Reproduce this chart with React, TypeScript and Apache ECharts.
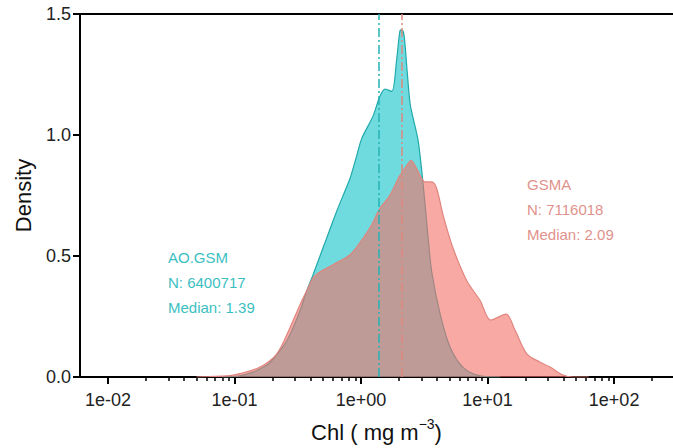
import React, { useEffect, useRef } from "react";
import * as echarts from "echarts";

// Chl (mg m^-3) and kernel density for AO.GSM
const aoChl = [0.0794, 0.092, 0.11, 0.14, 0.168, 0.191, 0.259, 0.33, 0.372, 0.418, 0.474, 0.535, 0.641, 0.748, 0.818, 0.925, 1.01, 1.245, 1.41, 1.55, 1.75, 1.91, 2.03, 2.1, 2.19, 2.3, 2.44, 2.58, 2.82, 3.02, 3.21, 3.39, 3.62, 4.22, 5.06, 6.4, 8.73, 12.6];
const aoDensity = [0, 0.001, 0.005, 0.02, 0.04, 0.06, 0.15, 0.275, 0.356, 0.423, 0.5, 0.574, 0.684, 0.77, 0.82, 0.915, 0.984, 1.079, 1.16, 1.19, 1.18, 1.31, 1.43, 1.434, 1.41, 1.28, 1.13, 1.07, 0.98, 0.85, 0.71, 0.574, 0.434, 0.26, 0.123, 0.04, 0.005, 0];

// Chl (mg m^-3) and kernel density for GSMA
const gsmaChl = [0.05, 0.063, 0.092, 0.11, 0.159, 0.216, 0.275, 0.33, 0.372, 0.43, 0.601, 0.818, 1.04, 1.21, 1.41, 1.69, 2.03, 2.3, 2.48, 2.75, 3.02, 3.21, 3.62, 3.96, 4.45, 5.33, 6.85, 8.73, 10.6, 14.0, 16.5, 20.4, 26.0, 31.2, 39.5, 47.4, 63];
const gsmaDensity = [0, 0.002, 0.006, 0.014, 0.041, 0.096, 0.205, 0.3, 0.356, 0.418, 0.464, 0.505, 0.574, 0.628, 0.697, 0.751, 0.833, 0.874, 0.895, 0.861, 0.82, 0.806, 0.806, 0.779, 0.669, 0.533, 0.398, 0.316, 0.235, 0.26, 0.193, 0.096, 0.061, 0.041, 0.008, 0, 0];

const aoMedian = 1.39;
const gsmaMedian = 2.09;
const aoN = 6400717;
const gsmaN = 7116018;

const majorTicks = [0.01, 0.1, 1, 10, 100];
const majorLabels = ["1e-02", "1e-01", "1e+00", "1e+01", "1e+02"];
const minorMultipliers = [2, 3, 4, 5, 6, 7, 8, 9];
const yTicks = [0, 0.5, 1.0, 1.5];

const X_MIN = 0.00601;
const X_MAX = 292;

const FONT = "'Liberation Sans', Arial, Helvetica, sans-serif";

export default function App() {
  const ref = useRef<HTMLDivElement>(null);

  useEffect(() => {
    if (!ref.current) return;
    const chart = echarts.init(ref.current, null, { renderer: "svg" });
    const lmin = Math.log10(X_MIN);
    const lmax = Math.log10(X_MAX);
    const majorVals = majorTicks.map((t) => Math.log10(t));
    const minorVals = majorTicks
      .flatMap((d) => minorMultipliers.map((k) => k * d))
      .filter((v) => v <= X_MAX)
      .map((v) => Math.log10(v));

    const labelFor = (v: number) => {
      const i = majorVals.findIndex((m) => Math.abs(m - v) < 1e-6);
      return i >= 0 ? majorLabels[i] : "";
    };

    const option: any = {
      animation: false,
      grid: { left: 80, right: 0, top: 14, bottom: 66, containLabel: false },
      xAxis: [
        {
          type: "value",
          position: "bottom",
          min: lmin,
          max: lmax,
          axisLine: { show: true, onZero: false, lineStyle: { color: "#000", width: 2 } },
          axisTick: { show: true, customValues: majorVals, length: 7, lineStyle: { color: "#000", width: 2 } },
          axisLabel: {
            show: true,
            customValues: majorVals,
            formatter: (v: number) => labelFor(v),
            fontSize: 18,
            fontFamily: FONT,
            color: "#222",
            margin: 14,
          },
          splitLine: { show: false },
          name: "{t|Chl ( mg m}{s|−3}{t|)}",
          nameLocation: "middle",
          nameGap: 40,
          nameTextStyle: {
            fontFamily: FONT,
            color: "#111",
            rich: {
              t: { fontSize: 22, fontFamily: FONT, color: "#111", lineHeight: 30 },
              s: { fontSize: 14, fontFamily: FONT, color: "#111", verticalAlign: "top", lineHeight: 16 },
            },
          },
        },
        {
          type: "value",
          position: "bottom",
          min: lmin,
          max: lmax,
          axisLine: { show: false, onZero: false },
          axisTick: { show: true, customValues: minorVals, length: 4, lineStyle: { color: "#000", width: 1.5 } },
          axisLabel: { show: false },
          splitLine: { show: false },
        },
        {
          type: "value",
          position: "top",
          min: lmin,
          max: lmax,
          axisLine: { show: true, onZero: false, lineStyle: { color: "#000", width: 2 } },
          axisTick: { show: false },
          axisLabel: { show: false },
          splitLine: { show: false },
        },
      ],
      yAxis: {
        type: "value",
        position: "left",
        min: 0,
        max: 1.5,
        interval: 0.5,
        axisLine: { show: true, onZero: false, lineStyle: { color: "#000", width: 2 } },
        axisTick: { show: true, customValues: yTicks, length: 7, lineStyle: { color: "#000", width: 2 } },
        axisLabel: {
          formatter: (v: number) => v.toFixed(1),
          fontSize: 18,
          fontFamily: FONT,
          color: "#222",
          margin: 9,
        },
        splitLine: { show: false },
        name: "Density",
        nameLocation: "middle",
        nameGap: 46,
        nameTextStyle: { fontSize: 22, fontFamily: FONT, color: "#111" },
      },
      series: [
        {
          name: "AO.GSM",
          type: "line",
          xAxisIndex: 0,
          data: aoChl.map((c, i) => [Math.log10(c), aoDensity[i]]),
          smooth: 0.3,
          symbol: "none",
          lineStyle: { color: "#1fa9ab", width: 1.2 },
          areaStyle: { color: "rgba(0,191,196,0.56)", opacity: 1 },
          z: 2,
          markLine: {
            silent: true,
            symbol: "none",
            label: { show: false },
            lineStyle: { color: "#25b3b5", width: 1.5, type: [9, 3, 2, 3] },
            data: [{ xAxis: Math.log10(aoMedian) }],
          },
        },
        {
          name: "GSMA",
          type: "line",
          xAxisIndex: 0,
          data: gsmaChl.map((c, i) => [Math.log10(c), gsmaDensity[i]]),
          smooth: 0.3,
          symbol: "none",
          lineStyle: { color: "#e0857e", width: 1.2 },
          areaStyle: { color: "rgba(244,112,104,0.6)", opacity: 1 },
          z: 3,
          markLine: {
            silent: true,
            symbol: "none",
            label: { show: false },
            lineStyle: { color: "#e0887f", width: 1.5, type: [9, 3, 2, 3] },
            data: [{ xAxis: Math.log10(gsmaMedian) }],
          },
        },
      ],
      graphic: [
        {
          type: "text",
          x: 168,
          y: 245,
          style: {
            text: `AO.GSM\nN: ${aoN}\nMedian: ${aoMedian.toFixed(2)}`,
            fontSize: 15,
            fontFamily: FONT,
            fill: "#3bc0c2",
            lineHeight: 25,
            verticalAlign: "top",
          },
        },
        {
          type: "text",
          x: 527,
          y: 172,
          style: {
            text: `GSMA\nN: ${gsmaN}\nMedian: ${gsmaMedian.toFixed(2)}`,
            fontSize: 15,
            fontFamily: FONT,
            fill: "#df928c",
            lineHeight: 25,
            verticalAlign: "top",
          },
        },
      ],
    };
    chart.setOption(option);
    return () => chart.dispose();
  }, []);

  return (
    <div
      ref={ref}
      style={{ position: "fixed", left: 0, top: 0, width: 673, height: 448, background: "#fff" }}
    />
  );
}
